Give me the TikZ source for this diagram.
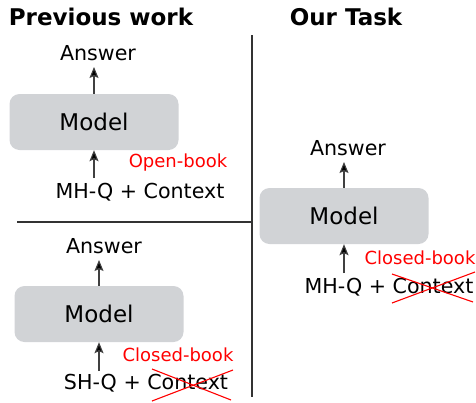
\documentclass[tikz,border=0pt]{standalone}
\usepackage{fontspec}
\setmainfont{DejaVu Sans}
\usetikzlibrary{arrows.meta}
\definecolor{boxgray}{HTML}{D1D3D6}
\begin{document}
\begin{tikzpicture}[x=1pt,y=-1pt,
  modelbox/.style={fill=boxgray,rounded corners=10pt,minimum width=169pt,minimum height=56pt,inner sep=0pt,font=\fontsize{23}{27}\selectfont},
  lbl/.style={inner sep=0pt,font=\fontsize{20.6}{24}\selectfont},
  redlbl/.style={inner sep=0pt,text=red,font=\fontsize{18}{22}\selectfont},
  titl/.style={inner sep=0pt,font=\fontsize{23}{27}\selectfont\bfseries},
  arr/.style={-{Stealth[length=11pt,width=9pt,inset=2pt,fill=black]},line width=1.1pt,draw=black!75},
  sep/.style={line width=1.1pt,draw=black!80},
  cross/.style={red,line width=1.1pt}]
\useasboundingbox (0,0) rectangle (476,402);
% titles
\node[titl] (t1) at (101,17) {Previous work};
\node[titl] (t2) at (346,17) {Our Task};
% separators
\coordinate (h1) at (17,222);
\coordinate (h2) at (251,222);
\coordinate (v1) at (252,35);
\coordinate (v2) at (252,397);
\draw[sep] (h1) -- (h2);
\draw[sep] (v1) -- (v2);
% top-left
\node[lbl] (a1) at (98,53) {Answer};
\node[modelbox] (m1) at (94,122) {Model};
\node[redlbl] (o1) at (178,163) {Open-book};
\node[lbl] (q1) at (140,192) {MH-Q + Context};
\coordinate (q1a) at (94,178);
\coordinate (a1a) at (94,67);
\draw[arr] (q1a) -- (m1.south);
\draw[arr] (m1.north) -- (a1a);
% bottom-left
\node[lbl] (a2) at (104,246) {Answer};
\node[modelbox] (m2) at (99,314) {Model};
\node[redlbl] (c2) at (178,355) {Closed-book};
\node[lbl] (q2) at (146,383) {SH-Q + Context};
\coordinate (q2a) at (99,371);
\coordinate (a2a) at (99,260);
\draw[arr] (q2a) -- (m2.south);
\draw[arr] (m2.north) -- (a2a);
\draw[cross] (152,369) -- (231,400);
\draw[cross] (152,401) -- (233,370);
% right
\node[lbl] (a3) at (348,148) {Answer};
\node[modelbox] (m3) at (344,216) {Model};
\node[redlbl] (c3) at (420,258) {Closed-book};
\node[lbl] (q3) at (389,287) {MH-Q + Context};
\coordinate (q3a) at (344,273);
\coordinate (a3a) at (344,162);
\draw[arr] (q3a) -- (m3.south);
\draw[arr] (m3.north) -- (a3a);
\draw[cross] (392,274) -- (473,302);
\draw[cross] (392,303) -- (475,272);
\end{tikzpicture}
\end{document}
